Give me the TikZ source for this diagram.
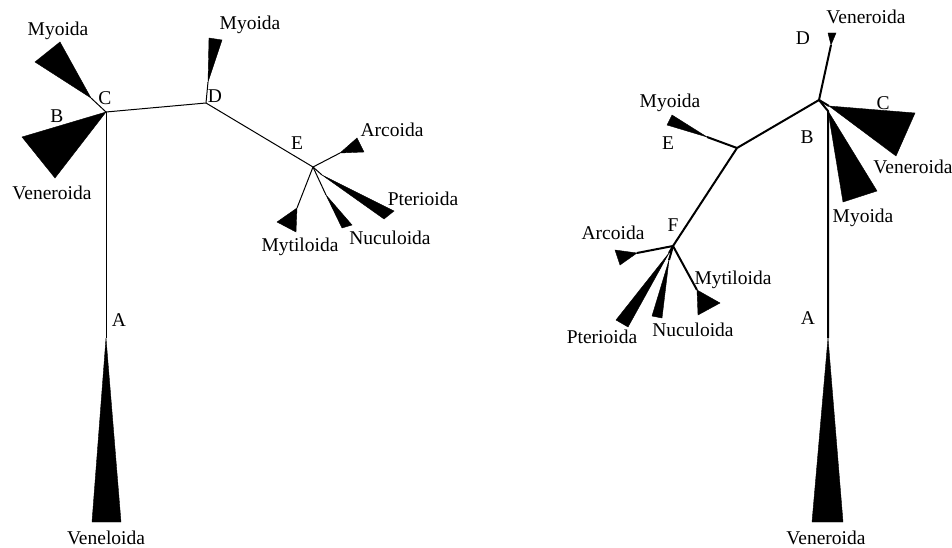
\documentclass[tikz,border=0pt]{standalone}
\usepackage{fontspec}
\setmainfont{Liberation Serif}
\begin{document}
\begin{tikzpicture}[x=1pt,y=-1pt,
  lbl/.style={font=\fontsize{19.5}{19.5}\selectfont, inner sep=0pt, anchor=center},
  thinbr/.style={line width=1pt},
  thickbr/.style={line width=2pt},
  clade/.style={fill=black, draw=black, line width=0.4pt, line join=miter}]
\useasboundingbox (0,0) rectangle (952,548);

% ---------------- Left tree ----------------
\coordinate (lC) at (106,112);
\coordinate (lA) at (106,338);
\coordinate (lMyA) at (91,98);
\coordinate (lD) at (206,103);
\coordinate (lMyB) at (208,82);
\coordinate (lE) at (313,167);
\coordinate (lAr) at (340,153);
\coordinate (lPt) at (322,175);
\coordinate (lNu) at (326,195);
\coordinate (lMt) at (297,208);

\draw[thinbr] (lC) -- (lA);
\draw[thinbr] (lC) -- (lMyA);
\draw[thinbr] (lC) -- (lD);
\draw[thinbr] (lD) -- (lMyB);
\draw[thinbr] (lD) -- (lE);
\draw[thinbr] (lE) -- (lAr);
\draw[thinbr] (lE) -- (lPt);
\draw[thinbr] (lE) -- (lNu);
\draw[thinbr] (lE) -- (lMt);

\path[clade] (lA) -- (92,522) -- (121,522) -- cycle;
\path[clade] (lMyA) -- (60,42) -- (35,62) -- cycle;
\path[clade] (lC) -- (22,137) -- (55,178) -- cycle;
\path[clade] (lMyB) -- (209,38) -- (222,40) -- cycle;
\path[clade] (lAr) -- (357,138) -- (364,152) -- cycle;
\path[clade] (lPt) -- (384,219) -- (394,211) -- cycle;
\path[clade] (lNu) -- (342,228) -- (352,225) -- cycle;
\path[clade] (lMt) -- (277,222) -- (296,232) -- cycle;

\node[lbl] (tlMyA) at (58,31) {Myoida};
\node[lbl] (tlC) at (105,98) {C};
\node[lbl] (tlB) at (57,116) {B};
\node[lbl] (tlVe) at (52,193) {Veneroida};
\node[lbl] (tlA) at (119,320) {A};
\node[lbl] (tlVl) at (106,538) {Veneloida};
\node[lbl] (tlD) at (215,96) {D};
\node[lbl] (tlMyB) at (250,25) {Myoida};
\node[lbl] (tlE) at (297,143) {E};
\node[lbl] (tlAr) at (392,130) {Arcoida};
\node[lbl] (tlPt) at (423,199) {Pterioida};
\node[lbl] (tlNu) at (390,238) {Nuculoida};
\node[lbl] (tlMt) at (300,247) {Mytiloida};

% ---------------- Right tree ----------------
\coordinate (rB) at (819,100);
\coordinate (rA0) at (828,111);
\coordinate (rA) at (828,338);
\coordinate (rD) at (831,45);
\coordinate (rC) at (829,106);
\coordinate (rE) at (737,148);
\coordinate (rMyE) at (707,137);
\coordinate (rF) at (673,246);
\coordinate (rAr) at (637,253);
\coordinate (rPt) at (669,253);
\coordinate (rNu) at (669,260);
\coordinate (rMt) at (697,290);

\draw[thickbr] (rB) -- (rA0) -- (rA);
\draw[thickbr] (rB) -- (rD);
\draw[thickbr] (rB) -- (rC);
\draw[thickbr] (rB) -- (rE);
\draw[thickbr] (rE) -- (rMyE);
\draw[thickbr] (rE) -- (rF);
\draw[thickbr] (rF) -- (rAr);
\draw[thickbr] (rF) -- (rPt);
\draw[thickbr] (rF) -- (rNu);
\draw[thickbr] (rF) -- (rMt);

\path[clade] (rA) -- (812,522) -- (843,522) -- cycle;
\path[clade] (rD) -- (828,33) -- (836,33) -- cycle;
\path[clade] (rC) -- (915,113) -- (896,156) -- cycle;
\path[clade] (rA0) -- (843,202) -- (877,191) -- cycle;
\path[clade] (rMyE) -- (672,115) -- (667,125) -- cycle;
\path[clade] (rAr) -- (615,250) -- (620,265) -- cycle;
\path[clade] (rPt) -- (616,320) -- (628,327) -- cycle;
\path[clade] (rNu) -- (652,316) -- (662,318) -- cycle;
\path[clade] (rMt) -- (698,315) -- (720,303) -- cycle;

\node[lbl] (trVeD) at (866,17) {Veneroida};
\node[lbl] (trD) at (803,38) {D};
\node[lbl] (trC) at (883,103) {C};
\node[lbl] (trB) at (807,137) {B};
\node[lbl] (trVeC) at (913,167) {Veneroida};
\node[lbl] (trMyB) at (863,218) {Myoida};
\node[lbl] (trA) at (808,318) {A};
\node[lbl] (trVeA) at (826,538) {Veneroida};
\node[lbl] (trMyE) at (670,103) {Myoida};
\node[lbl] (trE) at (668,143) {E};
\node[lbl] (trF) at (673,225) {F};
\node[lbl] (trAr) at (613,233) {Arcoida};
\node[lbl] (trMt) at (733,280) {Mytiloida};
\node[lbl] (trNu) at (693,330) {Nuculoida};
\node[lbl] (trPt) at (602,337) {Pterioida};
\end{tikzpicture}
\end{document}
